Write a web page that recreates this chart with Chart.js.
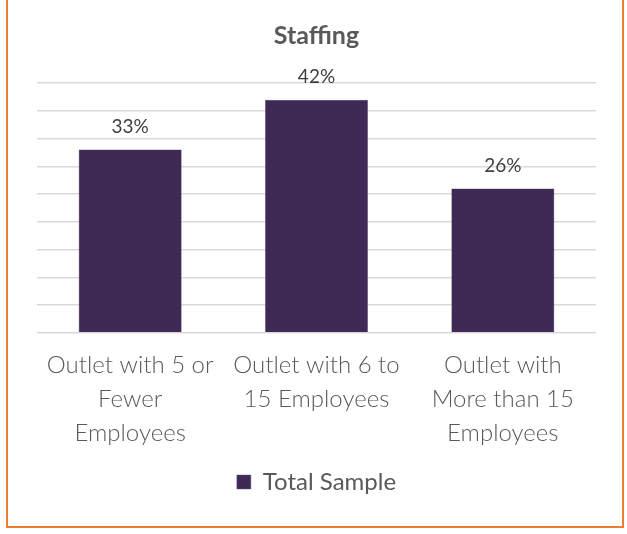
<!DOCTYPE html>
<html>
<head>
<meta charset="utf-8">
<script src="https://cdn.jsdelivr.net/npm/chart.js@4.4.0/dist/chart.umd.min.js"></script>
<style>
  html, body { margin: 0; padding: 0; background: #fff; }
  #frame {
    position: absolute; left: 6px; top: -3px;
    width: 614px; height: 529px;
    border: 2px solid #ed7d31; border-top: none;
  }
  #staffingChart { position: absolute; left: 0; top: 0; }
</style>
</head>
<body>
<div id="frame"></div>
<canvas id="staffingChart" width="627" height="534"></canvas>
<script>
// Staffing by outlet size
const categories = [
  ["Outlet with 5 or", "Fewer", "Employees"],
  ["Outlet with 6 to", "15 Employees"],
  ["Outlet with", "More than 15", "Employees"]
];
const totalSample = [33, 42, 26];
const yTicks = [0, 5, 10, 15, 20, 25, 30, 35, 40, 45];

const FONT = "Lato, 'Open Sans', sans-serif";
const TEXT = "#595959";

// writes the value above each bar
const valueLabels = {
  id: "valueLabels",
  afterDatasetsDraw(chart) {
    const ctx = chart.ctx;
    ctx.save();
    ctx.font = "19px " + FONT;
    ctx.fillStyle = "#404040";
    ctx.textAlign = "center";
    ctx.textBaseline = "middle";
    chart.getDatasetMeta(0).data.forEach((bar, i) => {
      ctx.fillText(totalSample[i] + "%", bar.x, bar.y - 23);
    });
    ctx.restore();
  }
};

new Chart(document.getElementById("staffingChart"), {
  type: "bar",
  data: {
    labels: categories,
    datasets: [{
      label: "Total Sample",
      data: totalSample,
      backgroundColor: "#3e2a55",
      borderColor: "#6b5a80",
      borderWidth: 0.5,
      categoryPercentage: 1,
      barPercentage: 0.553
    }]
  },
  options: {
    responsive: false,
    animation: false,
    layout: { padding: { left: 37, right: 31, top: 0, bottom: 30 } },
    plugins: {
      title: {
        display: true,
        text: "Staffing",
        color: TEXT,
        font: { family: FONT, size: 25, weight: "bold" },
        padding: { top: 21, bottom: 32 }
      },
      legend: {
        position: "bottom",
        labels: {
          color: TEXT,
          font: { family: FONT, size: 24 },
          boxWidth: 14,
          boxHeight: 14,
          padding: 13
        }
      },
      tooltip: { enabled: false }
    },
    scales: {
      x: {
        grid: { display: false },
        border: { display: false },
        ticks: {
          color: TEXT,
          font: { family: FONT, size: 24, weight: 300, lineHeight: 1.42 },
          padding: 7,
          maxRotation: 0,
          autoSkip: false
        }
      },
      y: {
        min: 0,
        max: 45,
        afterBuildTicks(axis) { axis.ticks = yTicks.map(v => ({ value: v })); },
        grid: { color: "#d9d9d9", lineWidth: 1.5, drawTicks: false },
        border: { display: false },
        ticks: { display: false }
      }
    }
  },
  plugins: [valueLabels]
});
</script>
</body>
</html>
